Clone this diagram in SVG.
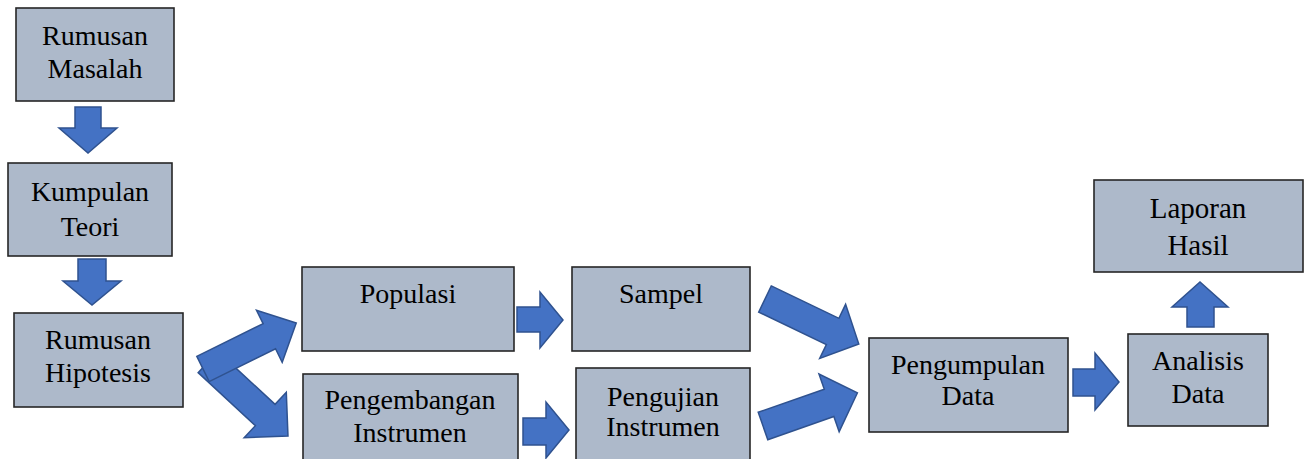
<svg xmlns="http://www.w3.org/2000/svg" width="1307" height="459" viewBox="0 0 1307 459">
<style>
.box{fill:#ADB9CA;stroke:#262626;stroke-width:1.6}
.arr{fill:#4472C4;stroke:#2F528F;stroke-width:1.5;stroke-linejoin:miter}
text{font-family:"Liberation Serif","Times New Roman",serif;font-size:28px;fill:#000;text-anchor:middle}
</style>
<rect width="1307" height="459" fill="#fff"/>
<g id="connectors">
<polygon class="arr" points="75,107 101,107 101,128 117,128 88,153 59,128 75,128"/>
<polygon class="arr" points="78,259 106,259 106,281 121,281 92,305 63,281 78,281"/>
<polygon class="arr" transform="translate(208,362) rotate(42.8)" points="0,-14.5 78,-14.5 78,-31 109,0 78,31 78,14.5 0,14.5"/>
<polygon class="arr" transform="translate(203,369) rotate(-26.3)" points="0,-14 74,-14 74,-29 104,0 74,29 74,14 0,14"/>
<polygon class="arr" points="517,307 540,307 540,292 563,320 540,348 540,332 517,332"/>
<polygon class="arr" points="523,418 546,418 546,402 569,430 546,458 546,445 523,445"/>
<polygon class="arr" transform="translate(765,299) rotate(25.6)" points="0,-14.5 75,-14.5 75,-30 104,0 75,30 75,14.5 0,14.5"/>
<polygon class="arr" transform="translate(763,426) rotate(-19.3)" points="0,-14.5 70,-14.5 70,-30.5 100,0 70,30.5 70,14.5 0,14.5"/>
<polygon class="arr" points="1073,369 1095,369 1095,353 1119,382 1095,410 1095,396 1073,396"/>
<polygon class="arr" points="1187,327 1187,307 1172,307 1200,282 1228,307 1214,307 1214,327"/>
</g>
<g id="rumusan-masalah"><rect class="box" x="16" y="8" width="158" height="93"/><text x="95" y="45">Rumusan</text><text x="95" y="78">Masalah</text></g>
<g id="kumpulan-teori"><rect class="box" x="8" y="163" width="164" height="93"/><text x="90" y="201">Kumpulan</text><text x="90" y="236">Teori</text></g>
<g id="rumusan-hipotesis"><rect class="box" x="14" y="313" width="169" height="94"/><text x="98" y="349">Rumusan</text><text x="98" y="382">Hipotesis</text></g>
<g id="populasi"><rect class="box" x="302" y="267" width="212" height="84"/><text x="408" y="303">Populasi</text></g>
<g id="pengembangan-instrumen"><rect class="box" x="303" y="374" width="215" height="95"/><text x="410" y="409">Pengembangan</text><text x="410" y="442">Instrumen</text></g>
<g id="sampel"><rect class="box" x="572" y="267" width="178" height="84"/><text x="661" y="303">Sampel</text></g>
<g id="pengujian-instrumen"><rect class="box" x="576" y="368" width="174" height="101"/><text x="663" y="406">Pengujian</text><text x="663" y="436">Instrumen</text></g>
<g id="pengumpulan-data"><rect class="box" x="869" y="338" width="199" height="94"/><text x="968" y="374">Pengumpulan</text><text x="968" y="405">Data</text></g>
<g id="analisis-data"><rect class="box" x="1128" y="334" width="140" height="92"/><text x="1198" y="370">Analisis</text><text x="1198" y="403">Data</text></g>
<g id="laporan-hasil"><rect class="box" x="1094" y="180" width="209" height="92"/><text x="1198" y="218" style="font-size:29px">Laporan</text><text x="1198" y="255" style="font-size:29px">Hasil</text></g>
</svg>
